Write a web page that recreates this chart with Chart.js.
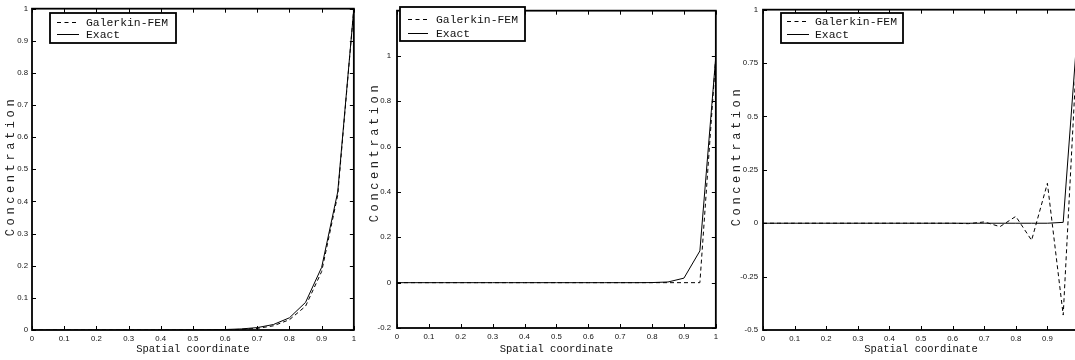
<!DOCTYPE html>
<html><head><meta charset="utf-8">
<script src="https://cdn.jsdelivr.net/npm/chart.js@4/dist/chart.umd.min.js"></script>
<style>
html,body{margin:0;padding:0;background:#fff;}
body{width:1075px;height:360px;position:relative;overflow:hidden;}
.p{position:absolute;top:0;height:360px;overflow:hidden;}
canvas{display:block;}
</style></head><body>
<div class="p" style="left:0;width:360px"><canvas id="c1" width="360" height="360" style="width:360px;height:360px"></canvas></div>
<div class="p" style="left:360px;width:362px"><canvas id="c2" width="362" height="360" style="width:362px;height:360px"></canvas></div>
<div class="p" style="left:720px;width:355px"><canvas id="c3" width="370" height="360" style="width:370px;height:360px"></canvas></div>
<script>
// ---- data ----
const xCoords = [0,0.05,0.1,0.15,0.2,0.25,0.3,0.35,0.4,0.45,0.5,0.55,0.6,0.65,0.7,0.75,0.8,0.85,0.9,0.95,1];
const exact1 = [0,0,0,0,0,0,0,0,0,0.0001,0.0003,0.0006,0.0015,0.0033,0.0075,0.017,0.038,0.086,0.195,0.43,1];
const fem1   = [0,0,0,0,0,0,0,0,0,0,0.0001,0.0003,0.0008,0.002,0.005,0.013,0.032,0.074,0.182,0.42,1];
const exact2 = [0,0,0,0,0,0,0,0,0,0,0,0,0,0,0,0,0.0004,0.003,0.02,0.14,1];
const fem2   = [0,0,0,0,0,0,0,0,0,0,0,0,0,0,0,0,0,0,0,0,1];
const exact3 = [0,0,0,0,0,0,0,0,0,0,0,0,0,0,0,0,0,0,0,0.004,1];
const fem3   = [0,0,0,0,0,0,0,0,0,0,0,0,0,-0.002,0.006,-0.016,0.032,-0.08,0.187,-0.43,1];
const seriesNames = ['Galerkin-FEM','Exact'];
const xTickValues = [0,0.1,0.2,0.3,0.4,0.5,0.6,0.7,0.8,0.9,1];
const xTickLabels = ['0','0.1','0.2','0.3','0.4','0.5','0.6','0.7','0.8','0.9','1'];
const yTickValues1 = [0,0.1,0.2,0.3,0.4,0.5,0.6,0.7,0.8,0.9,1];
const yTickLabels1 = ['0','0.1','0.2','0.3','0.4','0.5','0.6','0.7','0.8','0.9','1'];
const yTickValues2 = [-0.2,0,0.2,0.4,0.6,0.8,1];
const yTickLabels2 = ['-0.2','0','0.2','0.4','0.6','0.8','1'];
const yTickValues3 = [-0.5,-0.25,0,0.25,0.5,0.75,1];
const yTickLabels3 = ['-0.5','-0.25','0','0.25','0.5','0.75','1'];
const xTitle = 'Spatial coordinate';
const yTitle = 'Concentration';

const TICK_FONT = {family:'"Liberation Sans Narrow","Liberation Sans",Arial,sans-serif', size:7.8};
const MONO = '"Liberation Mono","DejaVu Sans Mono",monospace';

function pts(ys){ return xCoords.map((x,i)=>({x:x,y:ys[i]})); }

const framePlugin = {
  id:'frame',
  afterDatasetsDraw(chart){
    const {ctx, chartArea:a, scales:{x,y}} = chart;
    ctx.save();
    ctx.strokeStyle='#000'; ctx.lineWidth=1;
    ctx.beginPath();
    x.ticks.forEach(t=>{const p=Math.round(x.getPixelForValue(t.value))+0.5;
      ctx.moveTo(p,a.bottom); ctx.lineTo(p,a.bottom-4);
      ctx.moveTo(p,a.top); ctx.lineTo(p,a.top+4);});
    y.ticks.forEach(t=>{const p=Math.round(y.getPixelForValue(t.value))+0.5;
      ctx.moveTo(a.left,p); ctx.lineTo(a.left+4,p);
      ctx.moveTo(a.right,p); ctx.lineTo(a.right-4,p);});
    ctx.stroke();
    ctx.lineWidth=1.8;
    ctx.strokeRect(a.left,a.top,a.right-a.left,a.bottom-a.top);
    ctx.restore();
  }
};
const boxLegend = {
  id:'boxLegend',
  afterDraw(chart,args,o){
    const ctx=chart.ctx;
    ctx.save();
    ctx.fillStyle='#fff';
    ctx.fillRect(o.x,o.y,o.w,o.h);
    ctx.strokeStyle='#000'; ctx.lineWidth=1.8;
    ctx.strokeRect(o.x,o.y,o.w,o.h);
    chart.data.datasets.forEach((ds,i)=>{
      const yy=o.rows[i]+0.5;
      ctx.beginPath();
      ctx.lineWidth=1;
      ctx.setLineDash(ds.borderDash && ds.borderDash.length ? [4,3.5] : []);
      ctx.moveTo(o.lx0,yy); ctx.lineTo(o.lx1,yy); ctx.stroke();
      ctx.setLineDash([]);
      ctx.fillStyle='#111'; ctx.font='11.4px '+MONO;
      ctx.textBaseline='middle'; ctx.textAlign='left';
      ctx.fillText(ds.label,o.tx,yy);
    });
    ctx.restore();
  }
};
const yTitlePlugin = {
  id:'yTitleSp',
  afterDraw(chart,args,o){
    const ctx=chart.ctx;
    ctx.save();
    ctx.translate(o.x,o.y); ctx.rotate(-Math.PI/2);
    ctx.font='12px '+MONO; ctx.fillStyle='#222';
    ctx.letterSpacing=o.sp+'px';
    ctx.textAlign='center'; ctx.textBaseline='middle';
    ctx.fillText(o.text,0,0);
    ctx.restore();
  }
};

function makePanel(id, fem, exact, yVals, yLabs, geo){
  const cv=document.getElementById(id);
  new Chart(cv,{
    type:'line',
    data:{datasets:[
      {label:seriesNames[0],data:pts(fem),borderColor:'#000',borderWidth:1,borderDash:[4,3],pointRadius:0,tension:0,fill:false},
      {label:seriesNames[1],data:pts(exact),borderColor:'#000',borderWidth:1,pointRadius:0,tension:0,fill:false}
    ]},
    options:{
      responsive:false, animation:false, devicePixelRatio:1,
      layout:{padding:{top:geo.top,right:cv.width-geo.right,left:0,bottom:0}},
      plugins:{legend:{display:false},tooltip:{enabled:false},
        boxLegend:geo.legend,
        yTitleSp:{text:yTitle,x:geo.ytx,y:geo.yty,sp:3.6}},
      scales:{
        x:{type:'linear',min:0,max:1,
          afterBuildTicks:s=>{s.ticks=xTickValues.map(v=>({value:v}));},
          afterFit:s=>{s.height=360-geo.bottom;},
          grid:{display:false,drawTicks:false},border:{display:false},
          ticks:{padding:4,color:'#111',font:TICK_FONT,maxRotation:0,autoSkip:false,
            callback:(v)=>{const i=xTickValues.findIndex(t=>Math.abs(t-v)<1e-9);return i>=0?xTickLabels[i]:'';}},
          title:{display:true,text:xTitle,color:'#111',font:{family:MONO,size:10.5},padding:{top:0,bottom:4}}
        },
        y:{type:'linear',min:geo.ymin,max:geo.ymax,
          afterBuildTicks:s=>{s.ticks=yVals.map(v=>({value:v}));},
          afterFit:s=>{s.width=geo.left;},
          grid:{display:false,drawTicks:false},border:{display:false},
          ticks:{padding:geo.ypad,color:'#111',font:TICK_FONT,autoSkip:false,
            callback:(v)=>{const i=yVals.findIndex(t=>Math.abs(t-v)<1e-9);return i>=0?yLabs[i]:'';}}
        }
      }
    },
    plugins:[framePlugin,boxLegend,yTitlePlugin]
  });
}

makePanel('c1',fem1,exact1,yTickValues1,yTickLabels1,
  {left:32,right:356,top:7,bottom:330,ymin:0,ymax:1,ypad:4,ytx:11,yty:166,
   legend:{x:50,y:13,w:126,h:30,lx0:57,lx1:79,tx:86,rows:[22,34]}});
makePanel('c2',fem2,exact2,yTickValues2,yTickLabels2,
  {left:37,right:357,top:6,bottom:328,ymin:-0.2,ymax:1.2,ypad:6,ytx:15,yty:152,
   legend:{x:40,y:7,w:125,h:34,lx0:48,lx1:68,tx:76,rows:[19,33]}});
makePanel('c3',fem3,exact3,yTickValues3,yTickLabels3,
  {left:43,right:359,top:9,bottom:330,ymin:-0.5,ymax:1,ypad:5,ytx:17,yty:156,
   legend:{x:61,y:13,w:122,h:30,lx0:67,lx1:89,tx:95,rows:[21,34]}});
</script>
</body></html>
